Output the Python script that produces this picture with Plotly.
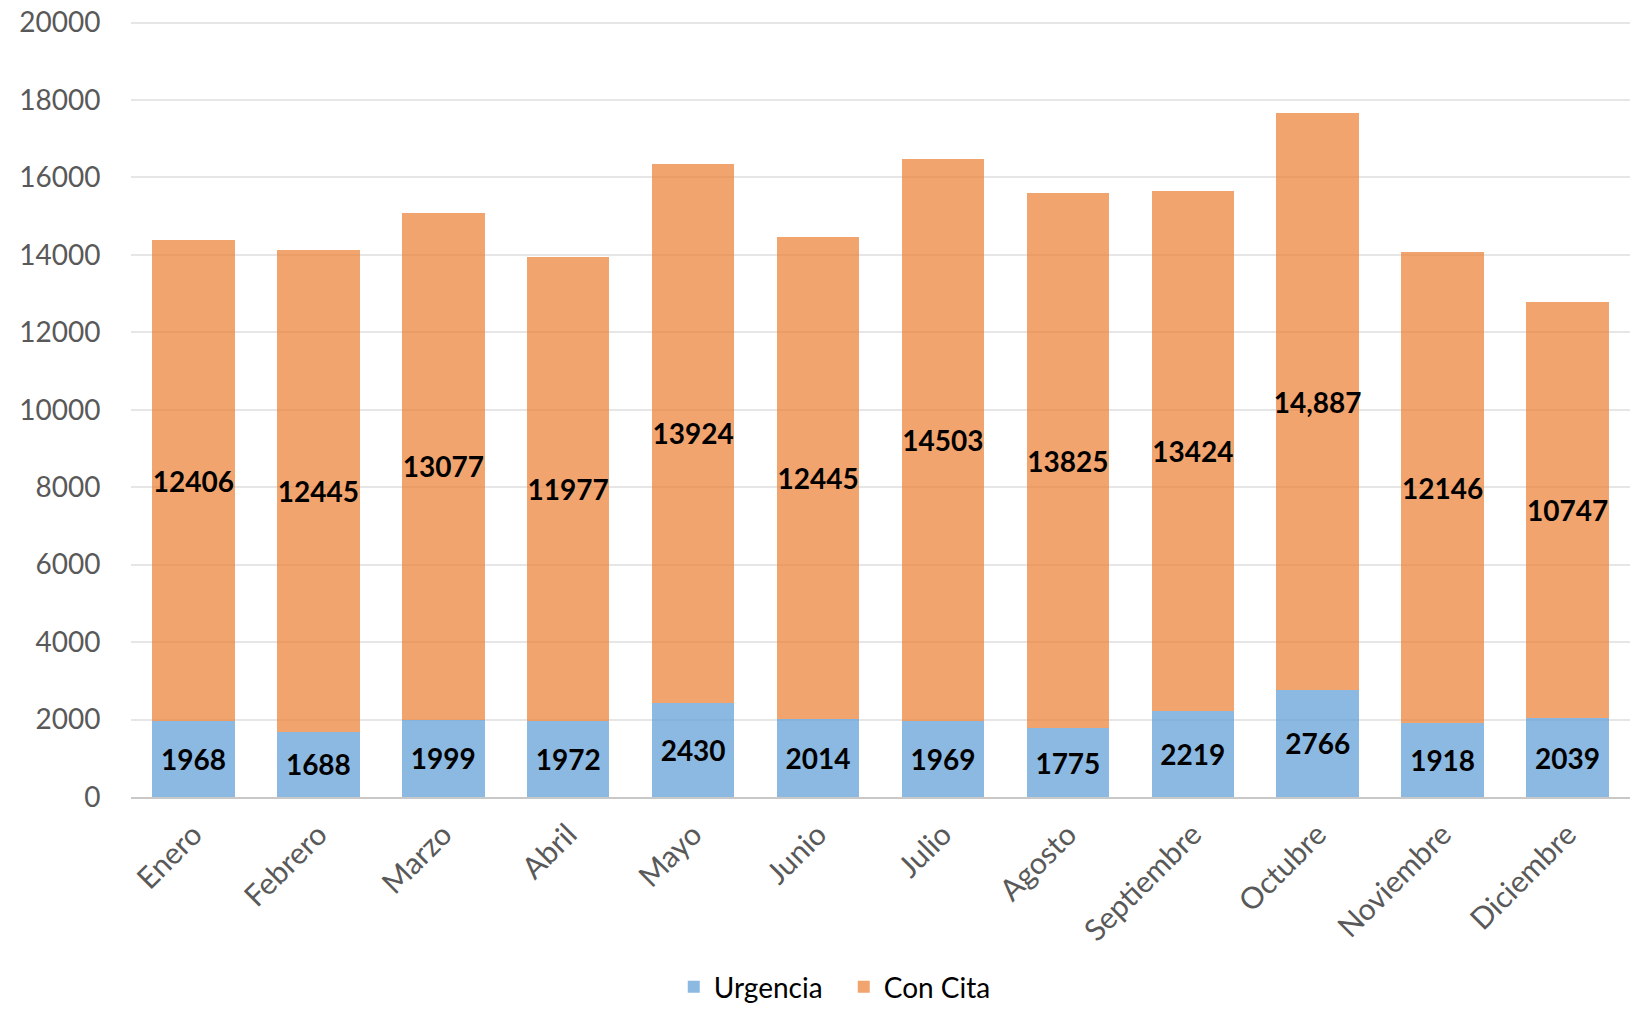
import plotly.graph_objects as go

meses = ["Enero", "Febrero", "Marzo", "Abril", "Mayo", "Junio", "Julio",
         "Agosto", "Septiembre", "Octubre", "Noviembre", "Diciembre"]
urgencia = [1968, 1688, 1999, 1972, 2430, 2014, 1969, 1775, 2219, 2766, 1918, 2039]
con_cita = [12406, 12445, 13077, 11977, 13924, 12445, 14503, 13825, 13424, 14887, 12146, 10747]

# etiquetas tal cual aparecen (Octubre lleva separador de miles)
urgencia_txt = [str(v) for v in urgencia]
con_cita_txt = [str(v) for v in con_cita]
con_cita_txt[9] = "14,887"

y_ticks = [0, 2000, 4000, 6000, 8000, 10000, 12000, 14000, 16000, 18000, 20000]

label_font = dict(family="Lato", size=28, color="black", weight="bold")

fig = go.Figure()
fig.add_trace(go.Bar(
    x=meses, y=urgencia, name="Urgencia",
    marker_color="rgba(91,155,213,0.7)", marker_line_width=0,
    text=urgencia_txt, textposition="inside", insidetextanchor="middle",
    textangle=0, insidetextfont=label_font, constraintext="none",
))
fig.add_trace(go.Bar(
    x=meses, y=con_cita, name="Con Cita",
    marker_color="rgba(237,125,49,0.7)", marker_line_width=0,
    text=con_cita_txt, textposition="inside", insidetextanchor="middle",
    textangle=0, insidetextfont=label_font, constraintext="none",
))

# la página añade 8px de margen al cuerpo; se compensa aquí
fig.update_layout(
    barmode="stack",
    bargap=0.34,
    width=1626, height=997,
    margin=dict(l=123, r=4, t=13, b=208, autoexpand=False),
    plot_bgcolor="white", paper_bgcolor="white",
    font=dict(family="Lato", size=28, color="#595959"),
    legend=dict(
        orientation="h", xref="container", x=0.514, xanchor="center",
        yref="container", y=0.018, yanchor="middle",
        entrywidth=125, traceorder="normal", font=dict(size=28, color="black"),
    ),
)
fig.update_yaxes(
    range=[0, 20040], tickvals=y_ticks, ticktext=[str(v) for v in y_ticks],
    showgrid=True, gridcolor="#e6e6e6", gridwidth=2, zeroline=False,
    showline=False, ticks="outside", ticklen=24, tickcolor="rgba(0,0,0,0)",
    ticklabeloverflow="allow", automargin=False,
)
fig.update_xaxes(
    tickangle=-45, showline=True, linecolor="#c8c8c8", linewidth=2,
    ticks="outside", ticklen=6, tickcolor="rgba(0,0,0,0)",
    tickfont=dict(size=30), automargin=False,
)

fig.write_html("out.html")
